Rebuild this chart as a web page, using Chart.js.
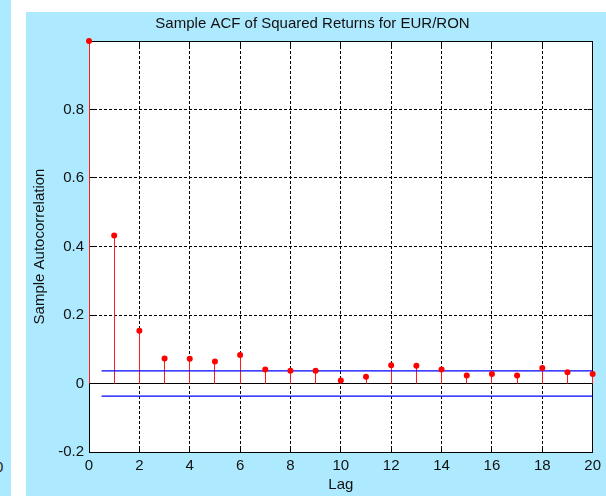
<!DOCTYPE html>
<html>
<head>
<meta charset="utf-8">
<title>Sample ACF of Squared Returns for EUR/RON</title>
<script src="https://cdn.jsdelivr.net/npm/chart.js@4/dist/chart.umd.min.js"></script>
<style>
  html, body { margin: 0; padding: 0; background: #fff; }
  body { width: 606px; height: 496px; position: relative; overflow: hidden; }
  #side { position: absolute; left: 0; top: 0; width: 11px; height: 496px; background: #aeeaff; overflow: hidden; }
  #side span { position: absolute; left: -5px; top: 459px; font: 15px 'Liberation Sans', Arial, sans-serif; line-height: 15px; color: #222; }
  #panel { position: absolute; left: 26px; top: 12px; width: 580px; height: 484px; background: #aeeaff; }
</style>
</head>
<body>
<div id="side"><span>0</span></div>
<div id="panel"><canvas id="chart" width="580" height="484"></canvas></div>
<script>
const canvas = document.getElementById('chart');

// sample autocorrelation of squared returns, lags 0..20
const lags = [0, 1, 2, 3, 4, 5, 6, 7, 8, 9, 10, 11, 12, 13, 14, 15, 16, 17, 18, 19, 20];
const acf = [1, 0.432, 0.154, 0.073, 0.072, 0.064, 0.083, 0.041, 0.037, 0.037, 0.009,
  0.020, 0.053, 0.052, 0.041, 0.023, 0.028, 0.023, 0.045, 0.033, 0.028];

// approximate 95% confidence bounds
const upperBound = 0.037;
const lowerBound = -0.037;
const boundLags = [0.5, 20];

const xTicks = [0, 2, 4, 6, 8, 10, 12, 14, 16, 18, 20];
const yTicks = [-0.2, 0, 0.2, 0.4, 0.6, 0.8, 1];

Chart.defaults.font.family = "'Liberation Sans', Arial, sans-serif";
Chart.defaults.font.size = 15;
Chart.defaults.color = '#111';

const align = p => Math.round(p - 0.5) + 0.5;

// white axes box, inward tick marks and the stems under each marker
const stemPlot = {
  id: 'stemPlot',
  beforeDraw(chart) {
    const { ctx, chartArea: a } = chart;
    ctx.save();
    ctx.fillStyle = '#fff';
    ctx.fillRect(a.left, a.top, a.right - a.left, a.bottom - a.top);
    ctx.restore();
  },
  beforeDatasetsDraw(chart) {
    const { ctx, chartArea: a, scales: { x, y } } = chart;
    const l = align(a.left), r = align(a.right), t = align(a.top), b = align(a.bottom);
    ctx.save();
    ctx.strokeStyle = '#000';
    ctx.lineWidth = 1;
    ctx.setLineDash([]);
    ctx.beginPath();
    xTicks.forEach(v => {
      const px = align(x.getPixelForValue(v));
      ctx.moveTo(px, b); ctx.lineTo(px, b - 5);
      ctx.moveTo(px, t); ctx.lineTo(px, t + 5);
    });
    yTicks.forEach(v => {
      const py = align(y.getPixelForValue(v));
      ctx.moveTo(l, py); ctx.lineTo(l + 5, py);
      ctx.moveTo(r, py); ctx.lineTo(r - 5, py);
    });
    ctx.stroke();
    ctx.strokeRect(l, t, r - l, b - t);

    // zero line
    ctx.beginPath();
    const y0 = align(y.getPixelForValue(0));
    ctx.moveTo(l, y0); ctx.lineTo(r, y0);
    ctx.stroke();

    ctx.strokeStyle = '#ff1a1a';
    ctx.beginPath();
    lags.forEach((lag, i) => {
      const px = align(x.getPixelForValue(lag));
      ctx.moveTo(px, y0);
      ctx.lineTo(px, y.getPixelForValue(acf[i]));
    });
    ctx.stroke();
    ctx.restore();
  }
};

new Chart(canvas, {
  type: 'scatter',
  data: {
    datasets: [
      {
        data: lags.map((lag, i) => ({ x: lag, y: acf[i] })),
        pointRadius: 3,
        pointHoverRadius: 3,
        backgroundColor: '#ff0000',
        borderWidth: 0,
        clip: false,
      },
      {
        data: boundLags.map(lag => ({ x: lag, y: upperBound })),
        showLine: true,
        pointRadius: 0,
        borderColor: '#0000ff',
        borderWidth: 1.4,
      },
      {
        data: boundLags.map(lag => ({ x: lag, y: lowerBound })),
        showLine: true,
        pointRadius: 0,
        borderColor: '#0000ff',
        borderWidth: 1.4,
      },
    ],
  },
  options: {
    responsive: false,
    animation: false,
    events: [],
    layout: {
      autoPadding: false,
      padding: { top: 0, right: 7, bottom: 0, left: 0 },
    },
    scales: {
      x: {
        type: 'linear',
        min: 0,
        max: 20,
        afterBuildTicks: scale => { scale.ticks = xTicks.map(v => ({ value: v })); },
        afterFit: scale => { scale.height = 44; },
        grid: { color: '#000', drawTicks: false, lineWidth: 1 },
        border: { display: false, dash: [3, 2] },
        ticks: { padding: 5, maxRotation: 0, callback: v => String(v) },
        title: { display: true, text: 'Lag', padding: { top: 0, bottom: 2 } },
      },
      y: {
        min: -0.2,
        max: 1,
        afterBuildTicks: scale => { scale.ticks = yTicks.map(v => ({ value: v })); },
        afterFit: scale => { scale.width = 63; },
        grid: { color: '#000', drawTicks: false, lineWidth: 1 },
        border: { display: false, dash: [3, 2] },
        ticks: {
          padding: 5,
          callback: v => (v === 1 ? '' : String(Math.round(v * 10) / 10)),
        },
        title: { display: true, text: 'Sample Autocorrelation', padding: { top: 5, bottom: 0 } },
      },
    },
    plugins: {
      legend: { display: false },
      tooltip: { enabled: false },
      title: {
        display: true,
        text: 'Sample ACF of Squared Returns for EUR/RON',
        color: '#111',
        font: { size: 15, weight: 'normal' },
        padding: { top: 3, bottom: 8 },
      },
    },
  },
  plugins: [stemPlot],
});
</script>
</body>
</html>
